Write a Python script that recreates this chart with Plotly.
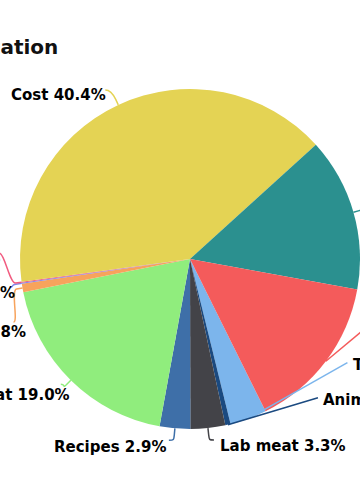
import math
import plotly.graph_objects as go

# ---- data ----
categories = ["Taste", "Animal welfare", "Lab meat", "Recipes", "Plant-based meat",
              "Other", "Nutrition", "Safety", "Cost", "Health", "Environment"]
values = [3.5, 0.5, 3.3, 2.9, 19.0, 0.8, 0.1, 0.1, 40.4, 14.6, 14.8]
colors = ["#7CB5EC", "#1B4A80", "#434348", "#3E6FA8", "#90ED7D",
          "#F7A35C", "#8085E9", "#F15C80", "#E4D354", "#2B908F", "#F45B5B"]
title_text = "Topic Categorization"

# ---- layout constants ----
W, H = 360, 500
CX, CY, R = 190, 259, 170
ROTATION = 153.6
BREAK = 6
FONT = "DejaVu Sans"

# label layout: (dx, dy) from slice edge to connector end, (tx, ty) text offset from connector end,
# side, connector style
label_layout = {
    "Taste":            (99, -56, 4, 2, "left", "straight"),
    "Animal welfare":   (90, -27, 3, 2, "left", "straight"),
    "Lab meat":         (6, 12, 4, 6, "left", "soft"),
    "Recipes":          (-6, 12, -1, 7, "right", "soft"),
    "Plant-based meat": (-10, 4, 11, 11, "right", "soft"),
    "Other":            (-9, 34, 14, 10, "right", "soft"),
    "Nutrition":        (-12, 4, 7, 6, "right", "soft"),
    "Safety":           (-22, -29, 2, 5, "right", "soft"),
    "Cost":             (-13, -15, 3, 5, "right", "soft"),
    "Health":           (22, -7, 3, 2, "left", "soft"),
    "Environment":      (54, -45, 3, 2, "left", "straight"),
}

def px(x, y):
    return x / W, 1 - y / H

fig = go.Figure()
fig.add_trace(go.Pie(
    labels=categories, values=values, sort=False, direction="clockwise",
    rotation=ROTATION, textinfo="none", hoverinfo="none", showlegend=False,
    marker=dict(colors=colors, line=dict(width=0)),
    domain=dict(x=[(CX - R) / W, (CX + R) / W], y=[(H - CY - R) / H, (H - CY + R) / H]),
))

total = sum(values)
cum = 0.0
shapes, annotations = [], []
for cat, val, col in zip(categories, values, colors):
    start = ROTATION + cum / total * 360
    cum += val
    end = ROTATION + cum / total * 360
    mid = math.radians((start + end) / 2)
    ux, uy = math.sin(mid), -math.cos(mid)
    tx0, ty0 = CX + R * ux, CY + R * uy
    dx, dy, ox, oy, side, style = label_layout[cat]
    lx, ly = tx0 + dx, ty0 + dy
    if style == "soft":
        bx, by = tx0 + BREAK * ux, ty0 + BREAK * uy
        c1x = lx + (5 if side == "right" else -5)
        c2x, c2y = 2 * bx - tx0, 2 * by - ty0
        pts = [px(lx, ly), px(c1x, ly), px(c2x, c2y), px(bx, by), px(tx0, ty0)]
        path = ("M {0[0]:.5f},{0[1]:.5f} C {1[0]:.5f},{1[1]:.5f} {2[0]:.5f},{2[1]:.5f} "
                "{3[0]:.5f},{3[1]:.5f} L {4[0]:.5f},{4[1]:.5f}").format(*pts)
    else:
        pts = [px(lx, ly), px(tx0, ty0)]
        path = "M {0[0]:.5f},{0[1]:.5f} L {1[0]:.5f},{1[1]:.5f}".format(*pts)
    shapes.append(dict(type="path", path=path, xref="paper", yref="paper",
                       line=dict(color=col, width=1.5)))
    ax_, ay_ = px(lx + ox, ly + oy)
    annotations.append(dict(
        x=ax_, y=ay_, xref="paper", yref="paper", showarrow=False,
        text=f"<b>{cat} {val / total * 100:.1f}%</b>",
        xanchor=side, yanchor="middle",
        font=dict(family=FONT, size=15, color="#000000"),
    ))

tx, ty = px(60, 47)
annotations.append(dict(
    x=tx, y=ty, xref="paper", yref="paper", showarrow=False,
    text=f"<b>{title_text}</b>", xanchor="right", yanchor="middle",
    font=dict(family=FONT, size=20, color="#111111"),
))

fig.update_layout(
    width=W, height=H, autosize=False,
    margin=dict(l=0, r=0, t=0, b=0),
    paper_bgcolor="white", plot_bgcolor="white",
    shapes=shapes, annotations=annotations,
)

fig.write_html("out.html", config={"displayModeBar": False, "staticPlot": True},
               post_script="document.body.style.margin='0';")
